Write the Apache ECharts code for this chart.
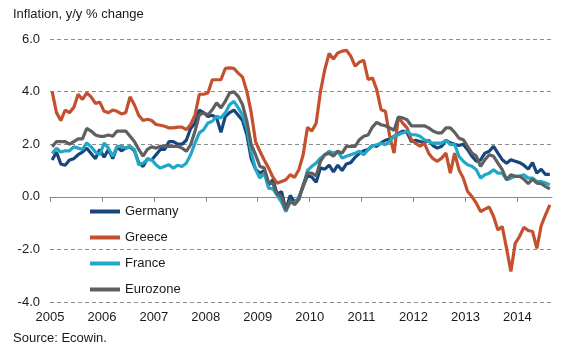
<!DOCTYPE html>
<html>
<head>
<meta charset="utf-8">
<script src="https://cdn.jsdelivr.net/npm/echarts@6/dist/echarts.min.js"></script>
<style>
  html, body { margin: 0; padding: 0; background: #fff; }
  #chart { width: 569px; height: 351px; }
</style>
</head>
<body>
<div id="chart"></div>
<script>
// monthly y/y inflation, Jan 2005 - Aug 2014
const years = ['2005', '2006', '2007', '2008', '2009', '2010', '2011', '2012', '2013', '2014'];
const yTicks = [-4, -2, 0, 2, 4, 6];

const germany = [
    1.4, 1.7, 1.25, 1.2, 1.4, 1.45, 1.6, 1.7, 1.85, 1.65, 1.45, 1.8,
    1.5, 1.8, 1.45, 1.9, 1.75, 1.85, 1.9, 1.75, 1.3, 1.15, 1.45, 1.4,
    1.6, 1.8, 1.8, 2.1, 2.1, 2.0, 2.0, 2.15, 2.6, 2.8, 3.3, 3.2,
    3.05, 3.1, 3.0, 2.45, 3.05, 3.2, 3.3, 3.1, 2.9, 2.35, 1.45, 1.05,
    0.9, 1.0, 0.45, 0.65, 0.1, 0.2, -0.5, 0.05, -0.2, -0.05, 0.4, 0.8,
    0.75, 0.55, 1.1, 1.05, 1.2, 0.95, 1.2, 1.0, 1.25, 1.3, 1.5, 1.65,
    1.75, 1.8, 1.95, 1.92, 2.05, 2.15, 2.2, 2.3, 2.4, 2.5, 2.45, 2.1,
    2.15, 2.1, 2.05, 2.15, 1.95, 1.85, 1.92, 2.15, 2.05, 2.0, 1.95, 2.0,
    1.79, 1.54, 1.35, 1.4, 1.66, 1.73, 1.92, 1.66, 1.41, 1.28, 1.41, 1.35,
    1.3, 1.2, 1.05, 1.3, 0.9, 1.05, 0.85, 0.85
];
const greece = [
    4.0, 3.2, 2.9, 3.3, 3.2, 3.4, 3.9, 3.7, 3.95, 3.8, 3.55, 3.6,
    3.25, 3.2, 3.3, 3.25, 3.15, 3.2, 3.8, 3.5, 3.1, 2.9, 2.95, 2.9,
    2.75, 2.72, 2.68, 2.62, 2.62, 2.65, 2.65, 2.55, 2.75, 3.1, 3.9, 3.9,
    3.95, 4.45, 4.45, 4.45, 4.88, 4.9, 4.88, 4.7, 4.55, 4.0, 3.2, 2.1,
    1.73, 1.4, 1.1, 0.75, 0.52, 0.58, 0.65, 0.84, 0.74, 1.03, 1.6, 2.64,
    2.5, 2.8, 4.0, 4.84, 5.45, 5.24, 5.47, 5.54, 5.57, 5.35, 4.97, 5.12,
    5.19, 4.46, 4.52, 4.08, 3.31, 3.25, 2.3, 1.66, 3.03, 2.8, 2.62, 2.17,
    2.04, 1.92, 2.04, 1.66, 1.45, 1.35, 1.47, 1.66, 0.9, 1.66, 1.03, 0.71,
    0.2, 0.01, -0.24, -0.56, -0.47, -0.39, -0.75, -1.26, -1.13, -1.96, -2.84, -1.77,
    -1.51, -1.16, -1.28, -1.32, -1.96, -1.1, -0.69, -0.31
];
const france = [
    1.65, 1.85, 1.7, 1.75, 1.75, 1.9, 1.85, 1.8, 2.05, 1.9, 1.7, 1.6,
    2.04, 1.85, 1.54, 1.92, 1.92, 1.85, 1.92, 1.8, 1.22, 1.28, 1.41, 1.41,
    1.22, 1.09, 1.16, 1.22, 1.09, 1.2, 1.15, 1.28, 1.6, 2.04, 2.43, 2.55,
    2.81, 2.87, 3.06, 3.0, 3.19, 3.5, 3.63, 3.38, 3.1, 2.6, 1.7, 1.05,
    0.71, 0.9, 0.33, 0.3, 0.05, -0.2, -0.56, -0.2, -0.24, 0.0, 0.39, 1.0,
    1.16, 1.28, 1.47, 1.6, 1.73, 1.66, 1.73, 1.47, 1.54, 1.6, 1.66, 1.73,
    1.6, 1.79, 1.94, 1.98, 2.04, 1.98, 2.1, 2.3, 2.36, 2.43, 2.49, 2.36,
    2.36, 2.3, 2.17, 2.1, 2.04, 2.04, 2.04, 2.15, 1.98, 2.0, 1.54, 1.35,
    1.22, 1.16, 1.03, 0.71, 0.84, 0.9, 1.03, 0.9, 0.9, 0.65, 0.71, 0.78,
    0.78, 0.84, 0.71, 0.71, 0.58, 0.58, 0.52, 0.46
];
const eurozone = [
    1.9, 2.1, 2.1, 2.1, 2.0, 2.1, 2.2, 2.2, 2.6, 2.5, 2.35, 2.3,
    2.3, 2.35, 2.3, 2.5, 2.5, 2.5, 2.3, 2.1, 1.8, 1.55, 1.8, 1.9,
    1.85, 1.92, 1.92, 1.92, 1.92, 1.92, 1.85, 1.73, 1.98, 2.49, 3.12, 3.19,
    3.12, 3.31, 3.57, 3.38, 3.63, 3.95, 3.99, 3.82, 3.5, 2.87, 1.98, 1.6,
    1.15, 1.1, 0.55, 0.5, 0.1, 0.0, -0.5, -0.15, -0.3, -0.1, 0.45, 0.9,
    0.9, 0.8, 1.35, 1.6, 1.66, 1.54, 1.73, 1.66, 1.92, 1.92, 1.92, 2.17,
    2.3, 2.35, 2.65, 2.83, 2.74, 2.7, 2.62, 2.53, 3.03, 3.0, 2.93, 2.7,
    2.7, 2.7, 2.7, 2.62, 2.5, 2.43, 2.43, 2.62, 2.62, 2.45, 2.23, 2.17,
    1.92, 1.66, 1.55, 1.16, 1.41, 1.6, 1.54, 1.28, 1.03, 0.65, 0.84, 0.78,
    0.78, 0.67, 0.5, 0.67, 0.52, 0.5, 0.39, 0.3
];

const yearStarts = years.map((y, i) => i * 12);
const textColor = '#1a1a1a';
const font = 'Arial, "Liberation Sans", sans-serif';

function monthly(values) {
    // points sit in the middle of each month
    return values.map((v, i) => [i + 0.5, v]);
}

function lineSeries(name, values, color) {
    return {
        name: name,
        type: 'line',
        xAxisIndex: 0,
        data: monthly(values),
        symbol: 'none',
        lineStyle: { color: color, width: 3.2 },
        itemStyle: { color: color },
        emphasis: { disabled: true }
    };
}

const chart = echarts.init(document.getElementById('chart'), null, { renderer: 'canvas' });

const option = {
    animation: false,
    backgroundColor: '#fff',
    textStyle: { fontFamily: font },
    title: [
        {
            text: 'Inflation, y/y % change',
            left: 13, top: 8, padding: 0,
            textStyle: { fontSize: 13, fontWeight: 'normal', color: textColor, fontFamily: font }
        },
        {
            text: 'Source: Ecowin.',
            left: 13, top: 332, padding: 0,
            textStyle: { fontSize: 13, fontWeight: 'normal', color: textColor, fontFamily: font }
        }
    ],
    legend: {
        orient: 'vertical',
        left: 90,
        top: 205,
        padding: 0,
        icon: 'rect',
        itemWidth: 30,
        itemHeight: 4,
        itemGap: 13,
        textStyle: { fontSize: 13, color: textColor, fontFamily: font },
        data: ['Germany', 'Greece', 'France', 'Eurozone']
    },
    grid: { left: 50, right: 17, top: 39, bottom: 49 },
    xAxis: [
        {
            type: 'value',
            min: 0,
            max: 116,
            position: 'bottom',
            axisLine: { onZero: true, lineStyle: { color: '#8c8c8c', width: 1 } },
            axisTick: { show: true, customValues: yearStarts, length: 5, lineStyle: { color: '#8c8c8c' } },
            axisLabel: { show: false },
            splitLine: { show: false }
        },
        {
            type: 'value',
            min: 0,
            max: 116,
            position: 'bottom',
            axisLine: { show: false, onZero: false },
            axisTick: { show: false },
            axisLabel: {
                customValues: yearStarts,
                formatter: (v) => years[Math.round(v / 12)],
                fontSize: 13,
                color: textColor,
                margin: 9
            },
            splitLine: { show: false }
        }
    ],
    yAxis: {
        type: 'value',
        min: yTicks[0],
        max: yTicks[yTicks.length - 1],
        interval: 2,
        axisLine: { show: false },
        axisTick: { show: false },
        axisLabel: {
            formatter: (v) => v.toFixed(1),
            fontSize: 13,
            color: textColor,
            margin: 10
        },
        splitLine: { lineStyle: { color: '#8c8c8c', type: [4, 3], width: 1 } }
    },
    series: [
        lineSeries('Germany', germany, '#17467e'),
        lineSeries('Greece', greece, '#c4502e'),
        lineSeries('France', france, '#22a8c6'),
        lineSeries('Eurozone', eurozone, '#5f5f5f')
    ]
};

chart.setOption(option);
</script>
</body>
</html>
